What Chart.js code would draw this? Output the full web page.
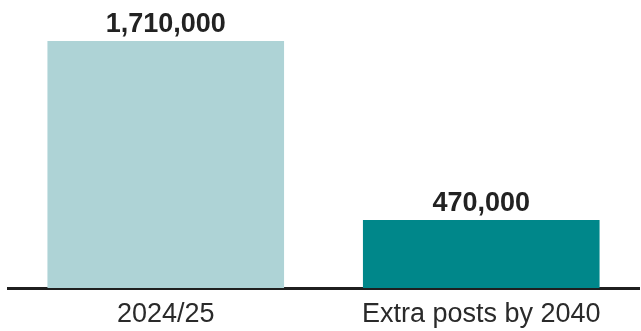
<!DOCTYPE html>
<html>
<head>
<meta charset="utf-8">
<script src="https://cdn.jsdelivr.net/npm/chart.js@4"></script>
<style>
  html, body { margin: 0; padding: 0; background: #ffffff; }
  #wrap { width: 641px; height: 331px; position: relative; }
</style>
</head>
<body>
<div id="wrap"><canvas id="postsChart"></canvas></div>
<script>
// data
const categories = ["2024/25", "Extra posts by 2040"];
const postValues = [1710000, 470000];
const barColors = ["#aed3d6", "#00878a"];

const FONT = "'Liberation Sans', Arial, sans-serif";

// value above each bar + category name under the axis line
const barText = {
    id: "barText",
    afterDatasetsDraw(chart) {
        const c = chart.ctx;
        const meta = chart.getDatasetMeta(0);
        const xScale = chart.scales.x;
        c.save();
        c.textAlign = "center";
        c.textBaseline = "alphabetic";
        c.fillStyle = "#222222";
        c.font = "bold 27px " + FONT;
        meta.data.forEach((bar, i) => {
            c.fillText(postValues[i].toLocaleString("en-GB"), bar.x, bar.y - 9);
        });
        c.fillStyle = "#2a2a2a";
        c.font = "27px " + FONT;
        categories.forEach((cat, i) => {
            c.fillText(cat, xScale.getPixelForValue(i), chart.chartArea.bottom + 34);
        });
        c.restore();
    }
};

const ctx = document.getElementById("postsChart").getContext("2d");
const chart = new Chart(ctx, {
    type: "bar",
    data: {
        labels: categories,
        datasets: [{
            data: postValues,
            backgroundColor: barColors,
            borderWidth: 0,
            barPercentage: 0.75,
            categoryPercentage: 1.0
        }]
    },
    options: {
        responsive: true,
        maintainAspectRatio: false,
        animation: false,
        layout: { padding: { top: 41, left: 8, right: 2, bottom: 43 } },
        plugins: {
            legend: { display: false },
            tooltip: { enabled: false }
        },
        scales: {
            x: {
                grid: { display: false, drawTicks: false },
                border: { display: true, color: "#1f1f1f", width: 3 },
                ticks: { display: false }
            },
            y: {
                display: false,
                min: 0,
                max: 1710000
            }
        }
    },
    plugins: [barText]
});
</script>
</body>
</html>
